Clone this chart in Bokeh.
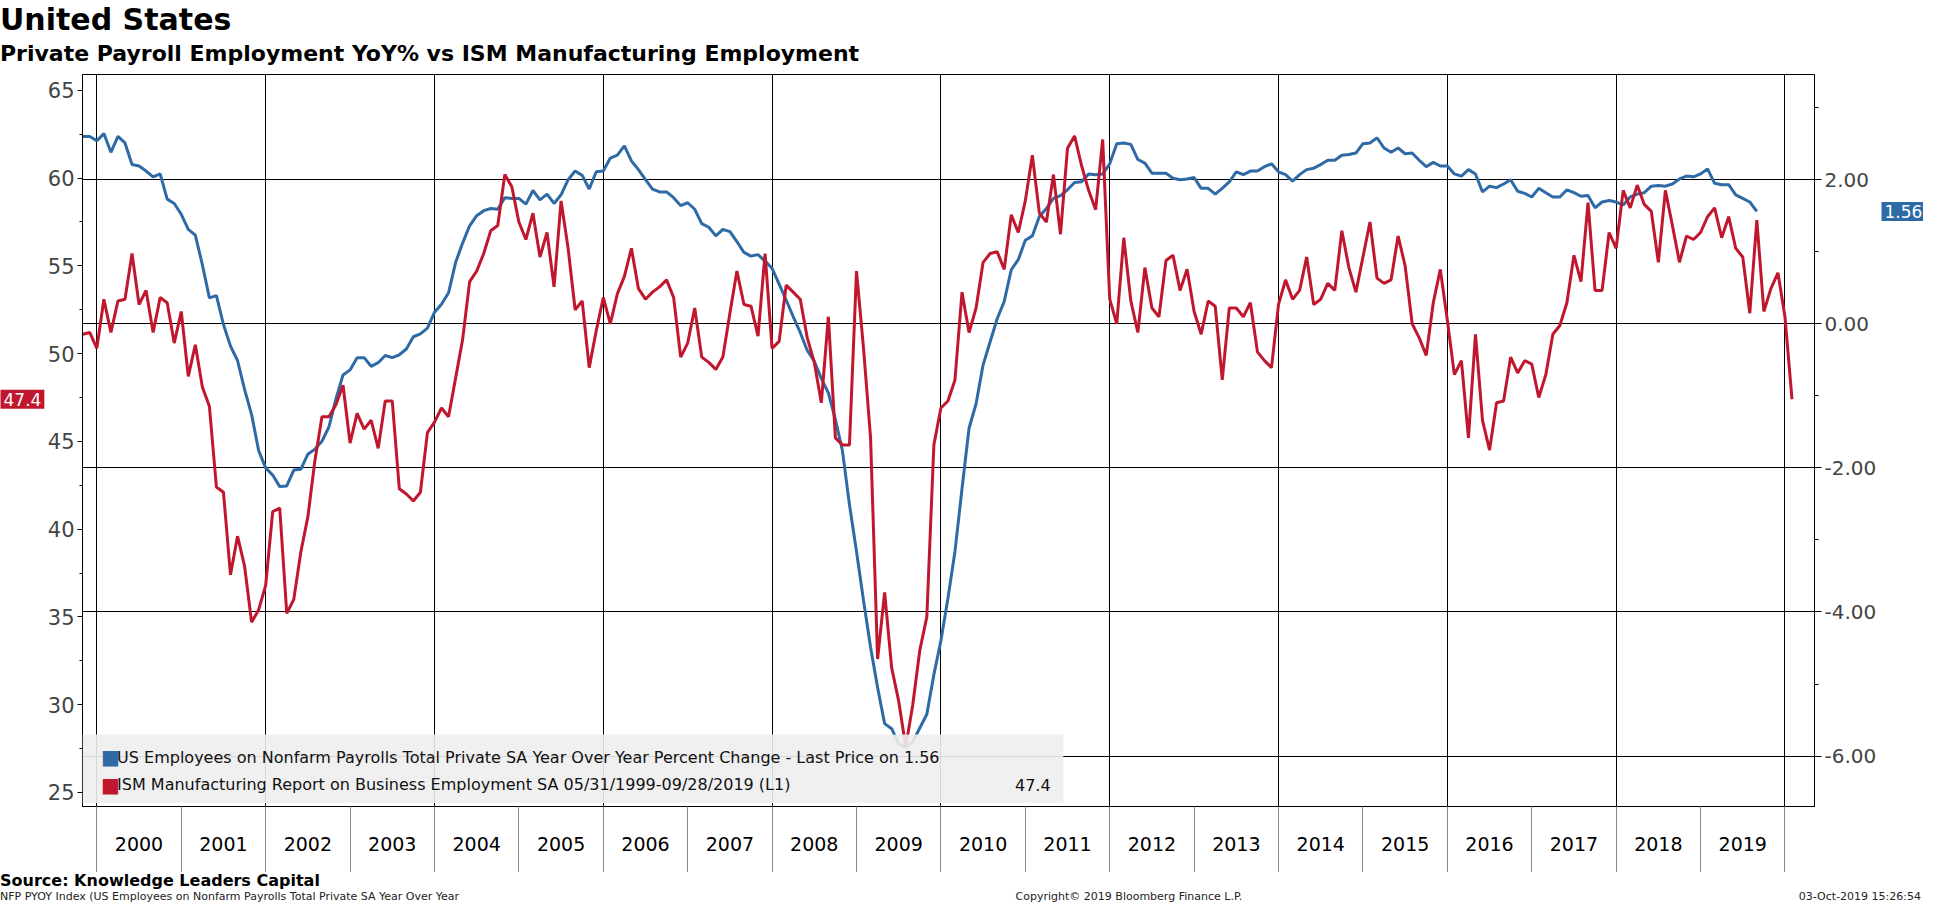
from bokeh.plotting import figure
from bokeh.layouts import column
from bokeh.models import (Range1d, LinearAxis, FixedTicker, Grid, Label, BoxAnnotation, Div,
                          CustomJSTickFormatter, PrintfTickFormatter)
from bokeh.embed import file_html
from bokeh.resources import INLINE

# ---- data (monthly; first point Nov 1999 on the chart's time axis) ----
start_year = 1999
start_month = 11
ism_employment = [
    51.1, 51.2,
    50.3, 53.1, 51.2, 53.0, 53.1, 55.7, 52.8, 53.6, 51.2, 53.2, 52.9, 50.6,
    52.4, 48.7, 50.5, 48.1, 47.0, 42.4, 42.1, 37.4, 39.6, 37.9, 34.7, 35.4,
    36.8, 41.0, 41.2, 35.2, 36.0, 38.7, 40.7, 43.9, 46.4, 46.4, 47.1, 48.2,
    44.9, 46.6, 45.7, 46.2, 44.6, 47.3, 47.3, 42.3, 42.0, 41.6, 42.1, 45.5,
    46.1, 46.9, 46.4, 48.6, 50.8, 54.1, 54.7, 55.7, 57.0, 57.3, 60.2, 59.5,
    57.5, 56.5, 58.0, 55.5, 56.9, 53.8, 58.7, 56.0, 52.5, 53.0, 49.2, 51.3,
    53.2, 51.7, 53.4, 54.4, 56.0, 53.7, 53.1, 53.5, 53.8, 54.2, 53.2, 49.8,
    50.6, 52.6, 49.8, 49.5, 49.1, 49.8, 52.3, 54.7, 52.8, 52.7, 51.0, 55.7,
    50.3, 50.7, 53.9, 53.5, 53.1, 50.9, 49.5, 47.2, 52.1, 45.2, 44.8, 44.8,
    54.7, 50.3, 45.2, 32.6, 36.4, 32.1, 30.2, 27.6, 30.0, 33.1, 35.0, 44.8,
    46.9, 47.3, 48.5, 53.5, 51.2, 52.6, 55.2, 55.7, 55.8, 54.8, 57.9, 56.9,
    58.7, 61.3, 58.0, 57.5, 60.2, 56.8, 61.7, 62.4, 60.7, 59.3, 58.2, 62.2,
    53.1, 51.7, 56.6, 53.0, 51.2, 54.9, 52.6, 52.1, 55.3, 55.6, 53.6, 54.8,
    52.4, 51.1, 53.0, 52.7, 48.5, 52.6, 52.6, 52.1, 52.9, 50.1, 49.6, 49.2,
    52.8, 54.2, 53.1, 53.6, 55.5, 52.8, 53.1, 54.0, 53.6, 57.0, 54.9, 53.5,
    55.5, 57.5, 54.3, 54.0, 54.2, 56.7, 55.0, 51.7, 50.9, 49.9, 52.9, 54.8,
    51.9, 48.8, 49.6, 45.2, 51.1, 46.2, 44.5, 47.2, 47.3, 49.8, 48.9, 49.6,
    49.4, 47.5, 48.8, 51.1, 51.6, 52.9, 55.6, 54.1, 58.6, 53.6, 53.6, 56.9,
    56.0, 59.3, 58.3, 59.6, 58.5, 58.1, 55.2, 59.3, 57.3, 55.2, 56.7, 56.5,
    56.9, 57.8, 58.3, 56.6, 57.8, 56.0, 55.5, 52.3, 57.6, 52.4, 53.7, 54.6,
    52.1, 47.4,
]
payroll_yoy = [
    2.60, 2.60,
    2.54, 2.64, 2.38, 2.60, 2.51, 2.21, 2.19, 2.12, 2.04, 2.08, 1.73, 1.67,
    1.52, 1.31, 1.23, 0.82, 0.36, 0.39, -0.01, -0.31, -0.51, -0.91, -1.26, -1.76,
    -2.00, -2.10, -2.26, -2.25, -2.03, -2.02, -1.81, -1.74, -1.63, -1.43, -1.04, -0.71,
    -0.64, -0.47, -0.47, -0.59, -0.54, -0.44, -0.47, -0.43, -0.35, -0.18, -0.14, -0.06,
    0.16, 0.27, 0.43, 0.85, 1.12, 1.36, 1.50, 1.57, 1.60, 1.59, 1.75, 1.74,
    1.74, 1.66, 1.85, 1.72, 1.80, 1.67, 1.79, 2.00, 2.12, 2.06, 1.87, 2.11,
    2.12, 2.30, 2.34, 2.47, 2.26, 2.14, 2.00, 1.87, 1.83, 1.83, 1.75, 1.64,
    1.68, 1.59, 1.39, 1.34, 1.22, 1.31, 1.28, 1.14, 0.99, 0.94, 0.96, 0.87,
    0.77, 0.55, 0.33, 0.10, -0.12, -0.37, -0.52, -0.76, -0.96, -1.33, -1.76, -2.51,
    -3.16, -3.84, -4.49, -5.05, -5.55, -5.62, -5.83, -5.88, -5.80, -5.61, -5.42, -4.87,
    -4.40, -3.81, -3.16, -2.29, -1.45, -1.11, -0.57, -0.25, 0.07, 0.31, 0.75, 0.89,
    1.16, 1.22, 1.49, 1.60, 1.74, 1.78, 1.86, 1.96, 1.97, 2.08, 2.07, 2.08,
    2.22, 2.50, 2.51, 2.49, 2.28, 2.23, 2.09, 2.09, 2.09, 2.02, 2.00, 2.01,
    2.03, 1.88, 1.88, 1.80, 1.88, 1.97, 2.11, 2.07, 2.12, 2.12, 2.18, 2.22,
    2.11, 2.07, 1.98, 2.07, 2.14, 2.16, 2.21, 2.27, 2.27, 2.34, 2.35, 2.37,
    2.50, 2.51, 2.58, 2.44, 2.38, 2.44, 2.36, 2.37, 2.27, 2.18, 2.24, 2.19,
    2.19, 2.08, 2.05, 2.14, 2.08, 1.83, 1.91, 1.89, 1.94, 2.00, 1.84, 1.81,
    1.76, 1.88, 1.82, 1.76, 1.76, 1.86, 1.82, 1.77, 1.78, 1.61, 1.69, 1.71,
    1.69, 1.65, 1.76, 1.80, 1.82, 1.91, 1.92, 1.91, 1.94, 2.01, 2.05, 2.04,
    2.08, 2.15, 1.95, 1.93, 1.93, 1.79, 1.74, 1.69, 1.56,
]
years = list(range(2000, 2020))
left_ticks = [25, 30, 35, 40, 45, 50, 55, 60, 65]
right_ticks = [2, 0, -2, -4, -6]
legend_labels = [
    "US Employees on Nonfarm Payrolls Total Private SA Year Over Year Percent Change - Last Price on 1.56",
    "ISM Manufacturing Report on Business Employment SA 05/31/1999-09/28/2019 (L1)",
]
legend_values = ["", "47.4"]
title = "United States"
subtitle = "Private Payroll Employment YoY% vs ISM Manufacturing Employment"
source = "Source: Knowledge Leaders Capital"
footer_left = "NFP PYOY Index (US Employees on Nonfarm Payrolls Total Private SA Year Over Year"
footer_mid = "Copyright\u00a9 2019 Bloomberg Finance L.P."
footer_right = "03-Oct-2019 15:26:54"

BLUE = "#2e6aa5"
RED = "#c0172f"
FONT = "DejaVu Sans"
TOTAL_W = 1921

def month_x(i):
    m = (start_month - 1) + i
    return start_year + m / 12.0

x_red = [month_x(i) for i in range(len(ism_employment))]
x_blue = [month_x(i) for i in range(len(payroll_yoy))]

FW, FH = 1732, 732
p = figure(frame_width=FW, frame_height=FH, output_backend="svg", toolbar_location=None,
           x_range=Range1d(1999.83, 2020.35), y_range=Range1d(24.2, 65.9),
           min_border_left=0, min_border_right=0, min_border_top=6, min_border_bottom=66)
p.outline_line_color = "black"
p.background_fill_color = "white"
p.border_fill_color = "white"
p.extra_y_ranges = {"r": Range1d(-6.70, 3.46)}
p.xgrid.visible = False
p.ygrid.visible = False

xax = p.xaxis[0]
xax.ticker = FixedTicker(ticks=[y + 0.5 for y in years], minor_ticks=years + [2020])
xax.formatter = CustomJSTickFormatter(code="return String(Math.floor(tick));")
xax.major_tick_line_color = None
xax.major_tick_out = 0
xax.minor_tick_in = 0
xax.minor_tick_out = 66
xax.minor_tick_line_color = "#8a8a8a"
xax.major_label_standoff = -36
xax.major_label_text_font = FONT
xax.major_label_text_font_size = "19px"
xax.major_label_text_color = "black"
xax.axis_line_color = "black"

yax = p.yaxis[0]
yax.ticker = FixedTicker(ticks=left_ticks, minor_ticks=[t + 2.5 for t in left_ticks])
yax.major_label_text_font = FONT
yax.major_label_text_font_size = "21px"
yax.major_label_standoff = 3
yax.major_tick_in = 0
yax.major_tick_out = 5
yax.minor_tick_in = 0
yax.minor_tick_out = 3
yax.axis_line_color = "black"

rax = LinearAxis(y_range_name="r",
                 ticker=FixedTicker(ticks=right_ticks, minor_ticks=[3, 1, -1, -3, -5]),
                 formatter=PrintfTickFormatter(format="%.2f"))
rax.major_label_text_font = FONT
rax.major_label_text_font_size = "20px"
rax.major_label_standoff = 3
rax.major_tick_in = 0
rax.major_tick_out = 7
rax.minor_tick_in = 0
rax.minor_tick_out = 4
rax.axis_line_color = "black"
p.add_layout(rax, "right")

p.add_layout(Grid(dimension=1, ticker=FixedTicker(ticks=right_ticks), y_range_name="r",
                  grid_line_color="black", grid_line_width=1))
p.add_layout(Grid(dimension=0, ticker=FixedTicker(ticks=list(range(2000, 2021, 2))),
                  grid_line_color="black", grid_line_width=1))

p.line(x_blue, payroll_yoy, y_range_name="r", line_color=BLUE, line_width=3)
p.line(x_red, ism_employment, line_color=RED, line_width=3)

# legend box
p.add_layout(BoxAnnotation(left=1999.83, right=2011.45, bottom=24.4, top=28.3,
                           fill_color="#eeeeee", fill_alpha=0.9, line_color=None, level="overlay"))
for i, (lab, val, col) in enumerate(zip(legend_labels, legend_values, [BLUE, RED])):
    yy = 27.0 - i * 1.55
    p.add_layout(Label(x=2000.05, y=yy, text="\u25A0", text_color=col, text_font=FONT,
                       text_font_size="20px", text_baseline="middle", level="overlay"))
    p.add_layout(Label(x=2000.24, y=yy, text=lab, text_color="#111111", text_font=FONT,
                       text_font_size="16px", text_baseline="middle", level="overlay"))
    if val:
        p.add_layout(Label(x=2011.3, y=yy, text=val, text_align="right", text_color="#111111",
                           text_font=FONT, text_font_size="16px", text_baseline="middle", level="overlay"))

# last-value callouts placed in the side panels
p.add_layout(Label(x=2, x_units="screen", y=payroll_yoy[-1], y_range_name="r", text="1.56",
                   text_color="white", text_font=FONT, text_font_size="17px", text_baseline="middle",
                   background_fill_color=BLUE, padding=3), "right")
p.add_layout(Label(x=0, x_units="screen", y=ism_employment[-1], text="47.4",
                   text_color="white", text_font=FONT, text_font_size="17px", text_baseline="middle",
                   background_fill_color=RED, padding=3), "left")

def div(text, size, bold, height):
    return Div(text=text, width=TOTAL_W, height=height, margin=(0, 0, 0, 0),
               styles={"font-family": FONT, "font-size": size,
                       "font-weight": "bold" if bold else "normal",
                       "line-height": f"{height}px", "color": "black", "white-space": "nowrap"})

d_title = div(title, "30px", True, 40)
d_sub = div(subtitle, "22px", True, 28)
d_src = div(source, "16px", True, 18)
d_foot = Div(text=(f'<div style="display:flex;justify-content:space-between;width:{TOTAL_W}px">'
                   f'<span>{footer_left}</span><span>{footer_mid}</span><span>{footer_right}</span></div>'),
             width=TOTAL_W, height=14, margin=(0, 0, 0, 0),
             styles={"font-family": FONT, "font-size": "11px", "line-height": "14px",
                     "color": "#222", "white-space": "nowrap"})

layout = column(d_title, d_sub, p, d_src, d_foot, spacing=0)
open("out.html", "w").write(file_html(layout, INLINE))
